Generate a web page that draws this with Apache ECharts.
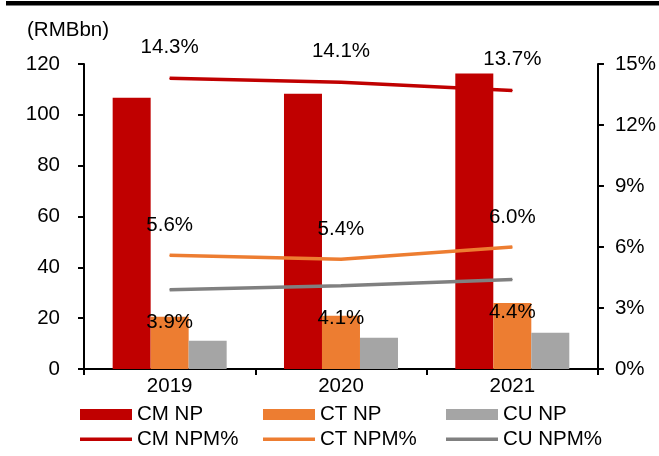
<!DOCTYPE html>
<html>
<head>
<meta charset="utf-8">
<script src="https://cdn.jsdelivr.net/npm/echarts@6/dist/echarts.min.js"></script>
<style>html,body{margin:0;padding:0;background:#fff}#c{width:659px;height:456px}</style>
</head>
<body>
<div id="c"></div>
<script>
var years = ['2019', '2020', '2021'];
var cmNP = [106.7, 108.3, 116.3];
var ctNP = [20.6, 21.0, 26.0];
var cuNP = [11.1, 12.3, 14.3];
var cmNPM = [14.3, 14.1, 13.7];
var ctNPM = [5.6, 5.4, 6.0];
var cuNPM = [3.9, 4.1, 4.4];
var leftTicks = {min: 0, max: 120, interval: 20};
var rightTicks = {min: 0, max: 15, interval: 3};

var FONT = '"Liberation Sans", Arial, sans-serif';
var FS = 20.5;
var chart = echarts.init(document.getElementById('c'));
var txt = {color: '#000', fontFamily: FONT, fontSize: FS};

function legendAt(name, x, y, isLine) {
  return {
    data: [{name: name, icon: 'rect'}],
    left: x, top: y,
    itemWidth: 52, itemHeight: isLine ? 3.5 : 11,
    textStyle: Object.assign({lineHeight: 22}, txt),
    selectedMode: false,
    padding: 0
  };
}
function pctLabel(pos, dist) {
  return {
    show: true, position: pos, distance: dist,
    color: '#000', fontFamily: FONT, fontSize: FS,
    formatter: function (p) { return p.value.toFixed(1) + '%'; }
  };
}
function lineSeries(name, data, color, pos, dist) {
  return {
    name: name, type: 'line', yAxisIndex: 1, data: data, z: 5,
    symbol: 'circle', symbolSize: 1, showSymbol: true,
    lineStyle: {color: color, width: 3.5}, itemStyle: {color: color},
    label: pctLabel(pos, dist)
  };
}

chart.setOption({
  animation: false,
  title: {text: '(RMBbn)', left: 22, top: 15, textStyle: {color: '#000', fontFamily: FONT, fontSize: FS, fontWeight: 'normal'}},
  graphic: [{type: 'rect', shape: {x: 6, y: 1, width: 653, height: 4.5}, style: {fill: '#000'}}],
  grid: {left: 84, right: 59, top: 64, bottom: 87},
  legend: [
    legendAt('CM NP', 80, 403.5, false),
    legendAt('CT NP', 263, 403.5, false),
    legendAt('CU NP', 446, 403.5, false),
    legendAt('CM NPM%', 80, 428.3, true),
    legendAt('CT NPM%', 263, 428.3, true),
    legendAt('CU NPM%', 446, 428.3, true)
  ],
  xAxis: {
    type: 'category', data: years,
    axisLine: {lineStyle: {color: '#000', width: 2}},
    axisTick: {show: true, length: 6, lineStyle: {color: '#000', width: 2}},
    axisLabel: Object.assign({margin: 7}, txt)
  },
  yAxis: [{
    type: 'value', min: leftTicks.min, max: leftTicks.max, interval: leftTicks.interval,
    axisLine: {show: true, lineStyle: {color: '#000', width: 2}},
    axisTick: {show: true, length: 6, lineStyle: {color: '#000', width: 2}},
    splitLine: {show: false},
    axisLabel: Object.assign({margin: 24}, txt)
  }, {
    type: 'value', min: rightTicks.min, max: rightTicks.max, interval: rightTicks.interval,
    position: 'right',
    axisLine: {show: true, lineStyle: {color: '#000', width: 2}},
    axisTick: {show: true, length: 6, lineStyle: {color: '#000', width: 2}},
    splitLine: {show: false},
    axisLabel: Object.assign({margin: 17, formatter: '{value}%'}, txt)
  }],
  series: [
    {name: 'CM NP', type: 'bar', data: cmNP, barWidth: 38, barGap: '0%', itemStyle: {color: '#C00000'}},
    {name: 'CT NP', type: 'bar', data: ctNP, barWidth: 38, barGap: '0%', itemStyle: {color: '#ED7D31'}},
    {name: 'CU NP', type: 'bar', data: cuNP, barWidth: 38, barGap: '0%', itemStyle: {color: '#A5A5A5'}},
    lineSeries('CM NPM%', cmNPM, '#C00000', 'top', 20),
    lineSeries('CT NPM%', ctNPM, '#ED7D31', 'top', 19),
    lineSeries('CU NPM%', cuNPM, '#808080', 'bottom', 22)
  ]
});
</script>
</body>
</html>
